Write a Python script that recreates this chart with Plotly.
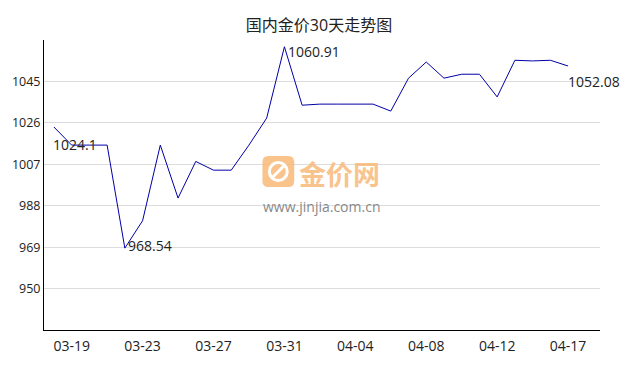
import plotly.graph_objects as go

# ---- data ----
dates = ["03-18", "03-19", "03-20", "03-21", "03-22", "03-23", "03-24", "03-25",
         "03-26", "03-27", "03-28", "03-29", "03-30", "03-31", "04-01", "04-02",
         "04-03", "04-04", "04-05", "04-06", "04-07", "04-08", "04-09", "04-10",
         "04-11", "04-12", "04-14", "04-15", "04-16", "04-17"]
prices = [1024.1, 1015.8, 1015.8, 1015.8, 968.54, 981.1, 1015.8, 991.5,
          1008.3, 1004.3, 1004.3, 1015.8, 1028.2, 1060.91, 1034.1, 1034.6,
          1034.6, 1034.6, 1034.6, 1031.4, 1046.5, 1053.9, 1046.5, 1048.3,
          1048.3, 1037.9, 1054.7, 1054.4, 1054.7, 1052.08]
ytick_vals = [950, 969, 988, 1007, 1026, 1045]
xtick_idx = [1, 5, 9, 13, 17, 21, 25, 29]
title_text = "国内金价30天走势图"

FONT = "Open Sans, Noto Sans CJK SC, sans-serif"
W, H = 638, 370
ML, MR, MT, MB = 40, 38, 40, 40

idx = list(range(len(prices)))
fig = go.Figure()
fig.add_trace(go.Scatter(x=idx, y=prices, mode="lines",
                         line=dict(color="#0000a8", width=1),
                         hoverinfo="skip", showlegend=False))

# labels: first, min, max, last
imin = prices.index(min(prices))
imax = prices.index(max(prices))
label_specs = [
    (0, -3, -17),
    (imin, 1, 3),
    (imax, 2, -5),
    (len(prices) - 1, -2, -16),
]
for i, xs, ys in label_specs:
    v = prices[i]
    fig.add_annotation(x=i, y=v, text=f"{v:g}", showarrow=False,
                       xanchor="left", yanchor="middle", xshift=xs, yshift=ys,
                       font=dict(family=FONT, size=14, color="#222"))

# watermark (decoration)
pw, ph = W - ML - MR, H - MT - MB
def px(x):
    return (x - ML) / pw
def py(y):
    return (H - MB - y) / ph

x0, x1, y0, y1 = 260, 292, 156, 187
r = 6
path = (f"M {px(x0 + r)},{py(y0)} L {px(x1 - r)},{py(y0)} "
        f"Q {px(x1)},{py(y0)} {px(x1)},{py(y0 + r)} L {px(x1)},{py(y1 - r)} "
        f"Q {px(x1)},{py(y1)} {px(x1 - r)},{py(y1)} L {px(x0 + r)},{py(y1)} "
        f"Q {px(x0)},{py(y1)} {px(x0)},{py(y1 - r)} L {px(x0)},{py(y0 + r)} "
        f"Q {px(x0)},{py(y0)} {px(x0 + r)},{py(y0)} Z")
fig.add_shape(type="path", path=path, xref="paper", yref="paper",
              fillcolor="rgba(249,185,120,0.85)", line=dict(width=0), layer="above")
cx, cy, rr = 276, 171.5, 9
fig.add_shape(type="circle", xref="paper", yref="paper",
              x0=px(cx - rr), x1=px(cx + rr), y0=py(cy + rr), y1=py(cy - rr),
              line=dict(color="white", width=3), layer="above")
fig.add_shape(type="line", xref="paper", yref="paper",
              x0=px(cx - 6), y0=py(cy + 6), x1=px(cx + 6), y1=py(cy - 6),
              line=dict(color="white", width=3), layer="above")
fig.add_annotation(xref="paper", yref="paper", x=px(295), y=py(173),
                   xanchor="left", yanchor="middle", showarrow=False,
                   text="<b>金价网</b>",
                   font=dict(family="Noto Sans CJK SC", size=27, color="rgba(249,185,120,0.85)"))
fig.add_annotation(xref="paper", yref="paper", x=px(319), y=py(206),
                   xanchor="center", yanchor="middle", showarrow=False,
                   text="www.jinjia.com.cn",
                   font=dict(family=FONT, size=14, color="#888"))

fig.update_layout(
    width=W, height=H,
    margin=dict(l=ML, r=MR, t=MT, b=MB),
    paper_bgcolor="white", plot_bgcolor="white",
    title=dict(text=title_text, x=0.5, xanchor="center",
               y=1 - 25 / H, yanchor="middle", yref="container",
               font=dict(family=FONT, size=16, color="#222")),
    font=dict(family=FONT, color="#222"),
    xaxis=dict(range=[-0.56, 30.8], tickmode="array", tickvals=xtick_idx,
               ticktext=[dates[i] for i in xtick_idx],
               showgrid=False, zeroline=False, showline=True,
               linecolor="#000", linewidth=1, ticks="", ticklabelstandoff=3,
               tickfont=dict(family=FONT, size=14, color="#222")),
    yaxis=dict(range=[931, 1064], tickmode="array", tickvals=ytick_vals,
               showgrid=True, gridcolor="#dcdcdc", gridwidth=1,
               zeroline=False, showline=True, linecolor="#000", linewidth=1,
               ticks="", tickfont=dict(family=FONT, size=12.5, color="#222")),
)

fig.write_html("out.html")
